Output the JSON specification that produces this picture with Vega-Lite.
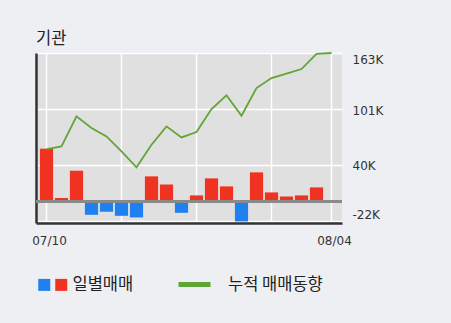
{
  "$schema": "https://vega.github.io/schema/vega-lite/v6.json",
  "width": 306,
  "height": 170,
  "autosize": {"type": "none"},
  "padding": {"left": 36, "top": 53, "right": 109, "bottom": 100},
  "background": "#eeeff3",
  "config": {
    "view": {"fill": "#e0e0e0", "stroke": null},
    "font": "Noto Sans CJK KR"
  },
  "title": {
    "text": "기관",
    "anchor": "start",
    "frame": "group",
    "fontSize": 16.5,
    "fontWeight": "normal",
    "color": "#222222",
    "offset": 2,
    "font": "Noto Sans CJK KR"
  },
  "data": {
    "values": [
      {"date": "07/10", "daily": 57.9, "cum": 57.5},
      {"date": "07/11", "daily": 3.7, "cum": 60.4},
      {"date": "07/12", "daily": 33.7, "cum": 93.4},
      {"date": "07/13", "daily": -14.7, "cum": 80.6},
      {"date": "07/14", "daily": -11.4, "cum": 71.4},
      {"date": "07/17", "daily": -15.8, "cum": 55.0},
      {"date": "07/18", "daily": -17.6, "cum": 37.4},
      {"date": "07/19", "daily": 27.5, "cum": 62.3},
      {"date": "07/20", "daily": 18.7, "cum": 82.4},
      {"date": "07/21", "daily": -12.5, "cum": 70.3},
      {"date": "07/24", "daily": 6.6, "cum": 76.2},
      {"date": "07/25", "daily": 25.3, "cum": 101.5},
      {"date": "07/26", "daily": 16.5, "cum": 116.5},
      {"date": "07/27", "daily": -22.0, "cum": 94.1},
      {"date": "07/28", "daily": 31.9, "cum": 124.5},
      {"date": "07/31", "daily": 9.9, "cum": 135.5},
      {"date": "08/01", "daily": 5.5, "cum": 140.3},
      {"date": "08/02", "daily": 6.6, "cum": 145.4},
      {"date": "08/03", "daily": 15.4, "cum": 162.0},
      {"date": "08/04", "daily": 0.7, "cum": 163.0}
    ]
  },
  "transform": [{"calculate": "datum.daily < 0 ? 'sell' : 'buy'", "as": "side"}],
  "layer": [
    {
      "mark": {"type": "bar"},
      "encoding": {
        "x": {
          "field": "date",
          "type": "ordinal",
          "sort": null,
          "scale": {"paddingInner": 0.12, "paddingOuter": 0.26},
          "axis": {
            "title": null,
            "values": ["07/10", "07/17", "07/24", "07/31", "08/04"],
            "labelExpr": "datum.value == '07/10' || datum.value == '08/04' ? datum.value : ''",
            "labelAngle": 0,
            "bandPosition": 0.5,
            "ticks": false,
            "tickSize": 0,
            "labelPadding": 12,
            "labelOffset": 3,
            "labelFont": "DejaVu Sans",
            "labelFontSize": 12,
            "labelColor": "#333333",
            "domain": true,
            "domainColor": "#333333",
            "domainWidth": 2.5,
            "grid": true,
            "gridColor": "#ffffff",
            "gridWidth": 1.5,
            "gridOpacity": 1
          }
        },
        "y": {
          "field": "daily",
          "type": "quantitative",
          "scale": {"domain": [-23.7, 163], "nice": false, "zero": false},
          "axis": {
            "orient": "right",
            "title": null,
            "values": [163, 101, 40, -22],
            "labelExpr": "datum.value + 'K'",
            "ticks": false,
            "tickSize": 0,
            "domain": false,
            "labelPadding": 10,
            "labelFont": "DejaVu Sans",
            "labelFontSize": 12,
            "labelColor": "#333333",
            "labelOffset": {
              "condition": [
                {"test": "datum.value > 150", "value": 6},
                {"test": "datum.value < 0", "value": -7}
              ],
              "value": 1
            },
            "grid": true,
            "gridColor": "#ffffff",
            "gridWidth": 1.5,
            "gridOpacity": 1
          }
        },
        "color": {
          "field": "side",
          "type": "nominal",
          "scale": {"domain": ["sell", "buy"], "range": ["#1f80ef", "#ef3320"]},
          "legend": {
            "orient": "none",
            "legendX": 0,
            "legendY": 223.5,
            "direction": "horizontal",
            "title": null,
            "padding": 0,
            "symbolType": "square",
            "symbolSize": 144,
            "symbolStrokeWidth": 0,
            "symbolOpacity": 1,
            "labelOffset": 0,
            "columnPadding": 0,
            "labelFont": "Noto Sans CJK KR",
            "labelFontSize": 16.5,
            "labelColor": "#222222",
            "labelExpr": "datum.value == 'buy' ? '일별매매' : ''",
            "encode": {
              "labels": {
                "update": {"dx": {"signal": "datum.value == 'buy' ? 3 : 0"}}
              }
            }
          }
        }
      }
    },
    {
      "mark": {"type": "rule", "color": "#8a8a8a", "strokeWidth": 2},
      "encoding": {
        "y": {"datum": 0, "type": "quantitative", "axis": null}
      }
    },
    {
      "mark": {"type": "line", "strokeWidth": 1.8, "interpolate": "linear"},
      "encoding": {
        "x": {"field": "date", "type": "ordinal", "sort": null},
        "y": {
          "field": "cum",
          "type": "quantitative",
          "axis": {
            "orient": "left",
            "title": null,
            "labels": false,
            "ticks": false,
            "grid": false,
            "domain": true,
            "domainColor": "#333333",
            "domainWidth": 2.5
          }
        },
        "stroke": {
          "datum": "누적 매매동향",
          "type": "nominal",
          "scale": {"range": ["#5fa636"]},
          "legend": {
            "orient": "none",
            "legendX": 140,
            "legendY": 213,
            "direction": "horizontal",
            "title": null,
            "padding": 0,
            "symbolType": "stroke",
            "symbolSize": 1024,
            "symbolStrokeWidth": 5,
            "symbolStrokeColor": "#5cb82c",
            "labelOffset": 15,
            "labelFont": "Noto Sans CJK KR",
            "labelFontSize": 16.5,
            "labelColor": "#222222"
          }
        }
      }
    }
  ],
  "resolve": {"axis": {"y": "independent"}}
}
